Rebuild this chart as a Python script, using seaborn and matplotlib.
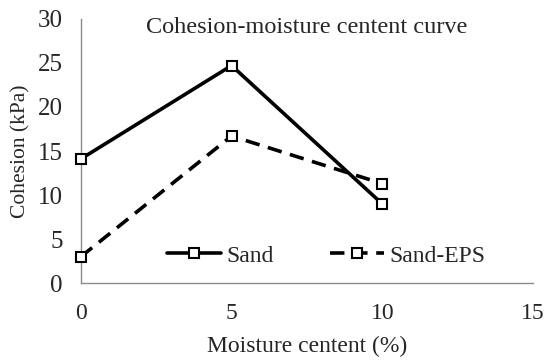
import numpy as np
import pandas as pd
import matplotlib
matplotlib.use('Agg')
from matplotlib import pyplot as plt
import seaborn as sns

# data
moisture = [0, 5, 10]
cohesion_sand = [14.1, 24.7, 9.0]
cohesion_sand_eps = [3.0, 16.7, 11.3]

sns.set_style('white')
plt.rcParams['font.family'] = ['Liberation Serif', 'DejaVu Serif']

fig, ax = plt.subplots(figsize=(5.5, 3.63), dpi=100)
fig.subplots_adjust(left=0.147, right=0.969, bottom=0.22, top=0.948)

mk = dict(marker='s', markersize=7.5, markerfacecolor='white',
          markeredgecolor='black', markeredgewidth=1.5, clip_on=False)

sns.lineplot(x=moisture, y=cohesion_sand, color='black', linewidth=2.6,
             label='Sand', ax=ax, **mk)
sns.lineplot(x=moisture, y=cohesion_sand_eps, color='black', linewidth=2.6,
             label='Sand-EPS', ax=ax, **mk)
ax.lines[1].set_dashes((4, 2.4))
for ln in ax.lines:
    ln.set_zorder(5)

ax.set_xlim(0, 15)
ax.set_ylim(0, 30)
ax.set_xticks([0, 5, 10, 15])
ax.set_yticks([0, 5, 10, 15, 20, 25, 30])

for s in ['top', 'right']:
    ax.spines[s].set_visible(False)
for s in ['left', 'bottom']:
    ax.spines[s].set_color('#8c8c8c')
    ax.spines[s].set_linewidth(1)

ax.tick_params(axis='x', direction='in', length=6, color='#8c8c8c',
               labelsize=17, pad=14)
ax.tick_params(axis='y', direction='out', length=6, color='#8c8c8c',
               labelsize=18, pad=7)

ax.set_xlabel('Moisture centent (%)', fontsize=17, labelpad=9)
ax.set_ylabel('Cohesion (kPa)', fontsize=15.5, labelpad=5)
ax.text(0.5, 0.968, 'Cohesion-moisture centent curve', fontsize=17.5,
        ha='center', va='center', transform=ax.transAxes)

ax.legend(loc='center', bbox_to_anchor=(326 / 550, 0.295),
          bbox_transform=fig.transFigure, ncol=2, frameon=False,
          fontsize=17, handlelength=2.3, columnspacing=2.4,
          handletextpad=0.2, markerscale=0.9)

plt.savefig('out.png', dpi=100)
